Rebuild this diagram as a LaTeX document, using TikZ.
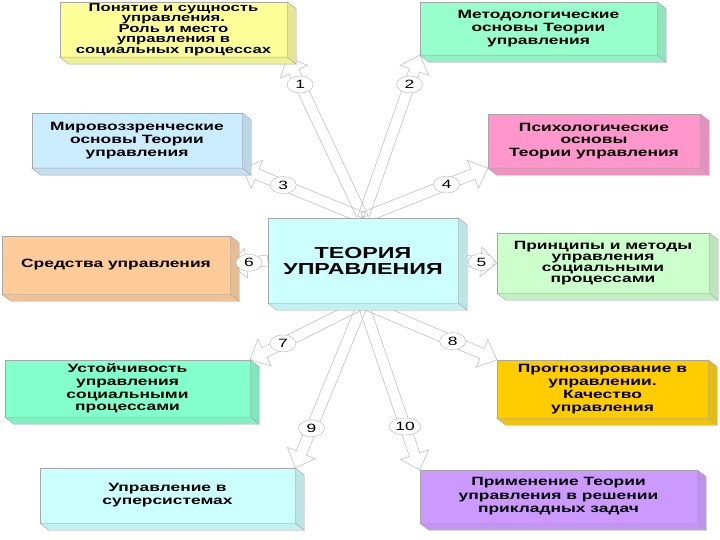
\documentclass[tikz,border=0pt]{standalone}
\usepackage{fontspec}
\setmainfont{Liberation Sans}[FakeStretch=1.45]
\usetikzlibrary{calc,shapes.geometric,backgrounds}
\definecolor{boxyellow}{RGB}{255,255,153}
\definecolor{boxmint}{RGB}{150,255,204}
\definecolor{boxblue}{RGB}{204,236,255}
\definecolor{boxpink}{RGB}{255,150,204}
\definecolor{boxcyan}{RGB}{204,255,255}
\definecolor{boxlgreen}{RGB}{204,255,204}
\definecolor{boxpeach}{RGB}{255,204,153}
\definecolor{boxaqua}{RGB}{130,255,204}
\definecolor{boxgold}{RGB}{255,204,0}
\definecolor{boxviolet}{RGB}{204,153,255}

% hollow block arrow from #1 to #2
\newcommand{\blockarrow}[2]{%
  \coordinate (ba-h) at ($(#2)!16pt!(#1)$);
  \draw[arrowline] ($(#1)!5.5pt!90:(#2)$) -- ($(ba-h)!5.5pt!-90:(#1)$)
    -- ($(ba-h)!15pt!-90:(#1)$) -- (#2) -- ($(ba-h)!15pt!90:(#1)$)
    -- ($(ba-h)!5.5pt!90:(#1)$) -- ($(#1)!5.5pt!-90:(#2)$) -- cycle;}
% side and bottom faces of a box
\newcommand{\extrude}[2]{%
  \filldraw[draw=gray!70,fill=#2!80!gray] (#1.north east) -- ++(9,7)
    -- ($(#1.south east)+(9,7)$) -- (#1.south east) -- cycle;
  \filldraw[draw=gray!70,fill=#2!88!gray] (#1.south west) -- ++(9,7)
    -- ($(#1.south east)+(9,7)$) -- (#1.south east) -- cycle;}

\begin{document}
\begin{tikzpicture}[x=1pt,y=-1pt,
  box/.style={draw=gray!70,inner sep=0pt,align=center,font=\fontsize{12}{12.8}\selectfont\bfseries},
  arrowline/.style={draw=gray!50,line width=0.6pt,line join=miter},
  numlabel/.style={draw=gray!60,fill=white,ellipse,inner sep=1pt,minimum width=26pt,minimum height=17pt,font=\fontsize{12}{12}\selectfont}]
\useasboundingbox (0,0) rectangle (720,540);

\node[box,fill=boxyellow,minimum width=227pt,minimum height=55pt,font=\fontsize{11.5}{10.6}\selectfont\bfseries] (b1) at (173.5,29.5) {Понятие и сущность\\управления.\\Роль и место\\управления в\\социальных процессах};
\node[box,fill=boxmint,minimum width=237pt,minimum height=53pt] (b2) at (538.5,28.5) {Методологические\\основы Теории\\управления};
\node[box,fill=boxblue,minimum width=210pt,minimum height=55pt] (b3) at (137,140.5) {Мировоззренческие\\основы Теории\\управления};
\node[box,fill=boxpink,minimum width=212pt,minimum height=54pt] (b4) at (594,141) {Психологические\\основы\\Теории управления};
\node[box,fill=boxcyan,minimum width=190pt,minimum height=85pt,font=\fontsize{16}{16}\selectfont\bfseries] (c) at (363,260.5) {ТЕОРИЯ\\УПРАВЛЕНИЯ};
\node[box,fill=boxlgreen,minimum width=212pt,minimum height=60pt,font=\fontsize{12}{11.2}\selectfont\bfseries] (b5) at (603,263) {Принципы и методы\\управления\\социальными\\процессами};
\node[box,fill=boxpeach,minimum width=228pt,minimum height=58pt] (b6) at (116,265) {Средства управления};
\node[box,fill=boxaqua,minimum width=245pt,minimum height=57pt] (b7) at (127.5,388.5) {Устойчивость\\управления\\социальными\\процессами};
\node[box,fill=boxgold,minimum width=211pt,minimum height=58pt] (b8) at (602.5,389) {Прогнозирование в\\управлении.\\Качество\\управления};
\node[box,fill=boxcyan,minimum width=255pt,minimum height=55pt] (b9) at (167.5,495.5) {Управление в\\суперсистемах};
\node[box,fill=boxviolet,minimum width=277pt,minimum height=53pt,font=\fontsize{12}{13.5}\selectfont\bfseries] (b10) at (558.5,496.5) {Применение Теории\\управления в решении\\прикладных задач};

\extrude{b1}{boxyellow}
\extrude{b2}{boxmint}
\extrude{b3}{boxblue}
\extrude{b4}{boxpink}
\extrude{c}{boxcyan}
\extrude{b5}{boxlgreen}
\extrude{b6}{boxpeach}
\extrude{b7}{boxaqua}
\extrude{b8}{boxgold}
\extrude{b9}{boxcyan}
\extrude{b10}{boxviolet}

\begin{scope}[on background layer]
\blockarrow{c.north}{b1.south east}
\blockarrow{c.north}{b2.south west}
\blockarrow{c.north}{b3.south east}
\blockarrow{c.north}{b4.south west}
\blockarrow{c.east}{b5.west}
\blockarrow{c.west}{b6.east}
\blockarrow{c.south}{b7.north east}
\blockarrow{c.south}{b8.north west}
\blockarrow{c.south}{b9.north east}
\blockarrow{c.south}{b10.north west}
\end{scope}

\node[numlabel] (n1) at ($(c.north)!0.83!(b1.south east)$) {1};
\node[numlabel] (n2) at ($(c.north)!0.82!(b2.south west)$) {2};
\node[numlabel] (n3) at ($(c.north)!0.66!(b3.south east)$) {3};
\node[numlabel] (n4) at ($(c.north)!0.67!(b4.south west)$) {4};
\node[numlabel] (n5) at ($(c.east)!0.6!(b5.west)$) {5};
\node[numlabel] (n6) at ($(c.west)!0.5!(b6.east)$) {6};
\node[numlabel] (n7) at ($(c.south)!0.71!(b7.north east)$) {7};
\node[numlabel] (n8) at ($(c.south)!0.67!(b8.north west)$) {8};
\node[numlabel] (n9) at ($(c.south)!0.76!(b9.north east)$) {9};
\node[numlabel,minimum width=32pt] (n10) at ($(c.south)!0.74!(b10.north west)$) {10};
\end{tikzpicture}
\end{document}
